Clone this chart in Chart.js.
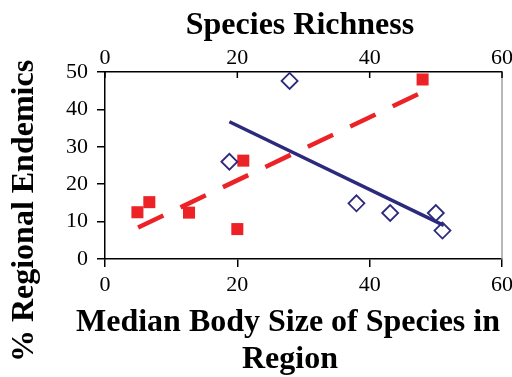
<!DOCTYPE html>
<html>
<head>
<meta charset="utf-8">
<script src="https://cdn.jsdelivr.net/npm/chart.js@4.4.0/dist/chart.umd.min.js"></script>
<style>
  html, body { margin: 0; padding: 0; background: #fff; }
  canvas { display: block; }
</style>
</head>
<body>
<canvas id="endemicsChart" width="512" height="377"></canvas>
<script>
// median body size (bottom axis) vs % regional endemics
let bodySize = [4.9, 6.7, 12.7, 20.0, 20.9, 48.0],
  bodyEndemics = [12.5, 15.2, 12.4, 8.0, 26.3, 48.0],
  bodyTrendX = [5.0, 47.7],
  bodyTrendY = [8.4, 44.4];

// species richness (top axis) vs % regional endemics
let richness = [18.8, 27.9, 38.0, 43.1, 50.0, 51.0],
  richEndemics = [26.0, 47.6, 14.9, 12.3, 12.3, 7.6],
  richTrendX = [18.8, 51.2],
  richTrendY = [36.7, 9.0];

let xTicks = [0, 20, 40, 60],
  yTicks = [0, 10, 20, 30, 40, 50];

let red = "#ec2227",
  navy = "#2b2a7c",
  serif = "'Liberation Serif', 'Times New Roman', serif";

Chart.defaults.font.family = serif;
Chart.defaults.font.size = 22;
Chart.defaults.color = "#000";

let toPoints = (xs, ys) => xs.map((x, i) => ({ x: x, y: ys[i] }));

// titles, grey right border and the inward ticks of the top axis
let titlesPlugin = {
  id: "titles",
  afterDraw(chart) {
    let ctx = chart.ctx,
      area = chart.chartArea,
      top = chart.scales.x2;
    ctx.save();
    ctx.lineWidth = 1.5;
    ctx.strokeStyle = "#a0a0a0";
    ctx.beginPath();
    ctx.moveTo(area.right, area.top);
    ctx.lineTo(area.right, area.bottom);
    ctx.stroke();
    ctx.strokeStyle = "#000";
    xTicks.forEach((v) => {
      let px = top.getPixelForValue(v);
      ctx.beginPath();
      ctx.moveTo(px, area.top);
      ctx.lineTo(px, area.top + 6);
      ctx.stroke();
    });
    ctx.fillStyle = "#000";
    ctx.font = "bold 32px " + serif;
    ctx.textAlign = "center";
    ctx.textBaseline = "alphabetic";
    ctx.fillText("Species Richness", 300, 34);
    ctx.fillText("Median Body Size of Species in", 288, 331);
    ctx.fillText("Region", 290, 368);
    ctx.translate(33, 211);
    ctx.rotate(-Math.PI / 2);
    ctx.fillText("% Regional Endemics", 0, 0);
    ctx.restore();
  },
};

let axisX = (position, size, drawTicks) => ({
  type: "linear",
  position: position,
  min: xTicks[0],
  max: xTicks[xTicks.length - 1],
  afterFit: (scale) => {
    scale.height = size;
    scale.paddingLeft = 0;
    scale.paddingRight = 0;
  },
  ticks: {
    stepSize: xTicks[1] - xTicks[0],
    color: "#000",
    padding: drawTicks ? 5 : 1,
    font: { family: serif, size: 22 },
  },
  grid: {
    drawOnChartArea: false,
    drawTicks: drawTicks,
    tickLength: 8,
    color: "#000",
    lineWidth: 1.5,
  },
  border: { color: "#000", width: 1.5 },
});

new Chart(document.getElementById("endemicsChart"), {
  type: "scatter",
  data: {
    datasets: [
      {
        data: toPoints(bodySize, bodyEndemics),
        xAxisID: "x",
        yAxisID: "y",
        pointStyle: "rect",
        pointRadius: 8.5,
        backgroundColor: red,
        borderWidth: 0,
        order: 4,
      },
      {
        type: "line",
        data: toPoints(bodyTrendX, bodyTrendY),
        xAxisID: "x",
        yAxisID: "y",
        borderColor: red,
        borderWidth: 4.5,
        borderDash: [28, 19],
        pointRadius: 0,
        fill: false,
        order: 3,
      },
      {
        data: toPoints(richness, richEndemics),
        xAxisID: "x2",
        yAxisID: "y",
        pointStyle: "rectRot",
        pointRadius: 8,
        backgroundColor: "#fff",
        borderColor: navy,
        borderWidth: 1.8,
        order: 2,
      },
      {
        type: "line",
        data: toPoints(richTrendX, richTrendY),
        xAxisID: "x2",
        yAxisID: "y",
        borderColor: navy,
        borderWidth: 3.5,
        pointRadius: 0,
        fill: false,
        order: 1,
      },
    ],
  },
  options: {
    responsive: false,
    animation: false,
    layout: { padding: { left: 0, right: 10, top: 0, bottom: 0 } },
    plugins: {
      legend: { display: false },
      tooltip: { enabled: false },
    },
    scales: {
      x: axisX("bottom", 118, true),
      x2: axisX("top", 72, false),
      y: {
        type: "linear",
        position: "left",
        min: yTicks[0],
        max: yTicks[yTicks.length - 1],
        afterFit: (scale) => {
          scale.width = 105;
          scale.paddingTop = 0;
          scale.paddingBottom = 0;
        },
        ticks: {
          stepSize: yTicks[1] - yTicks[0],
          color: "#000",
          padding: 9,
          font: { family: serif, size: 22 },
        },
        grid: {
          drawOnChartArea: false,
          tickLength: 8,
          color: "#000",
          lineWidth: 1.5,
        },
        border: { color: "#000", width: 1.5 },
      },
    },
  },
  plugins: [titlesPlugin],
});
</script>
</body>
</html>
